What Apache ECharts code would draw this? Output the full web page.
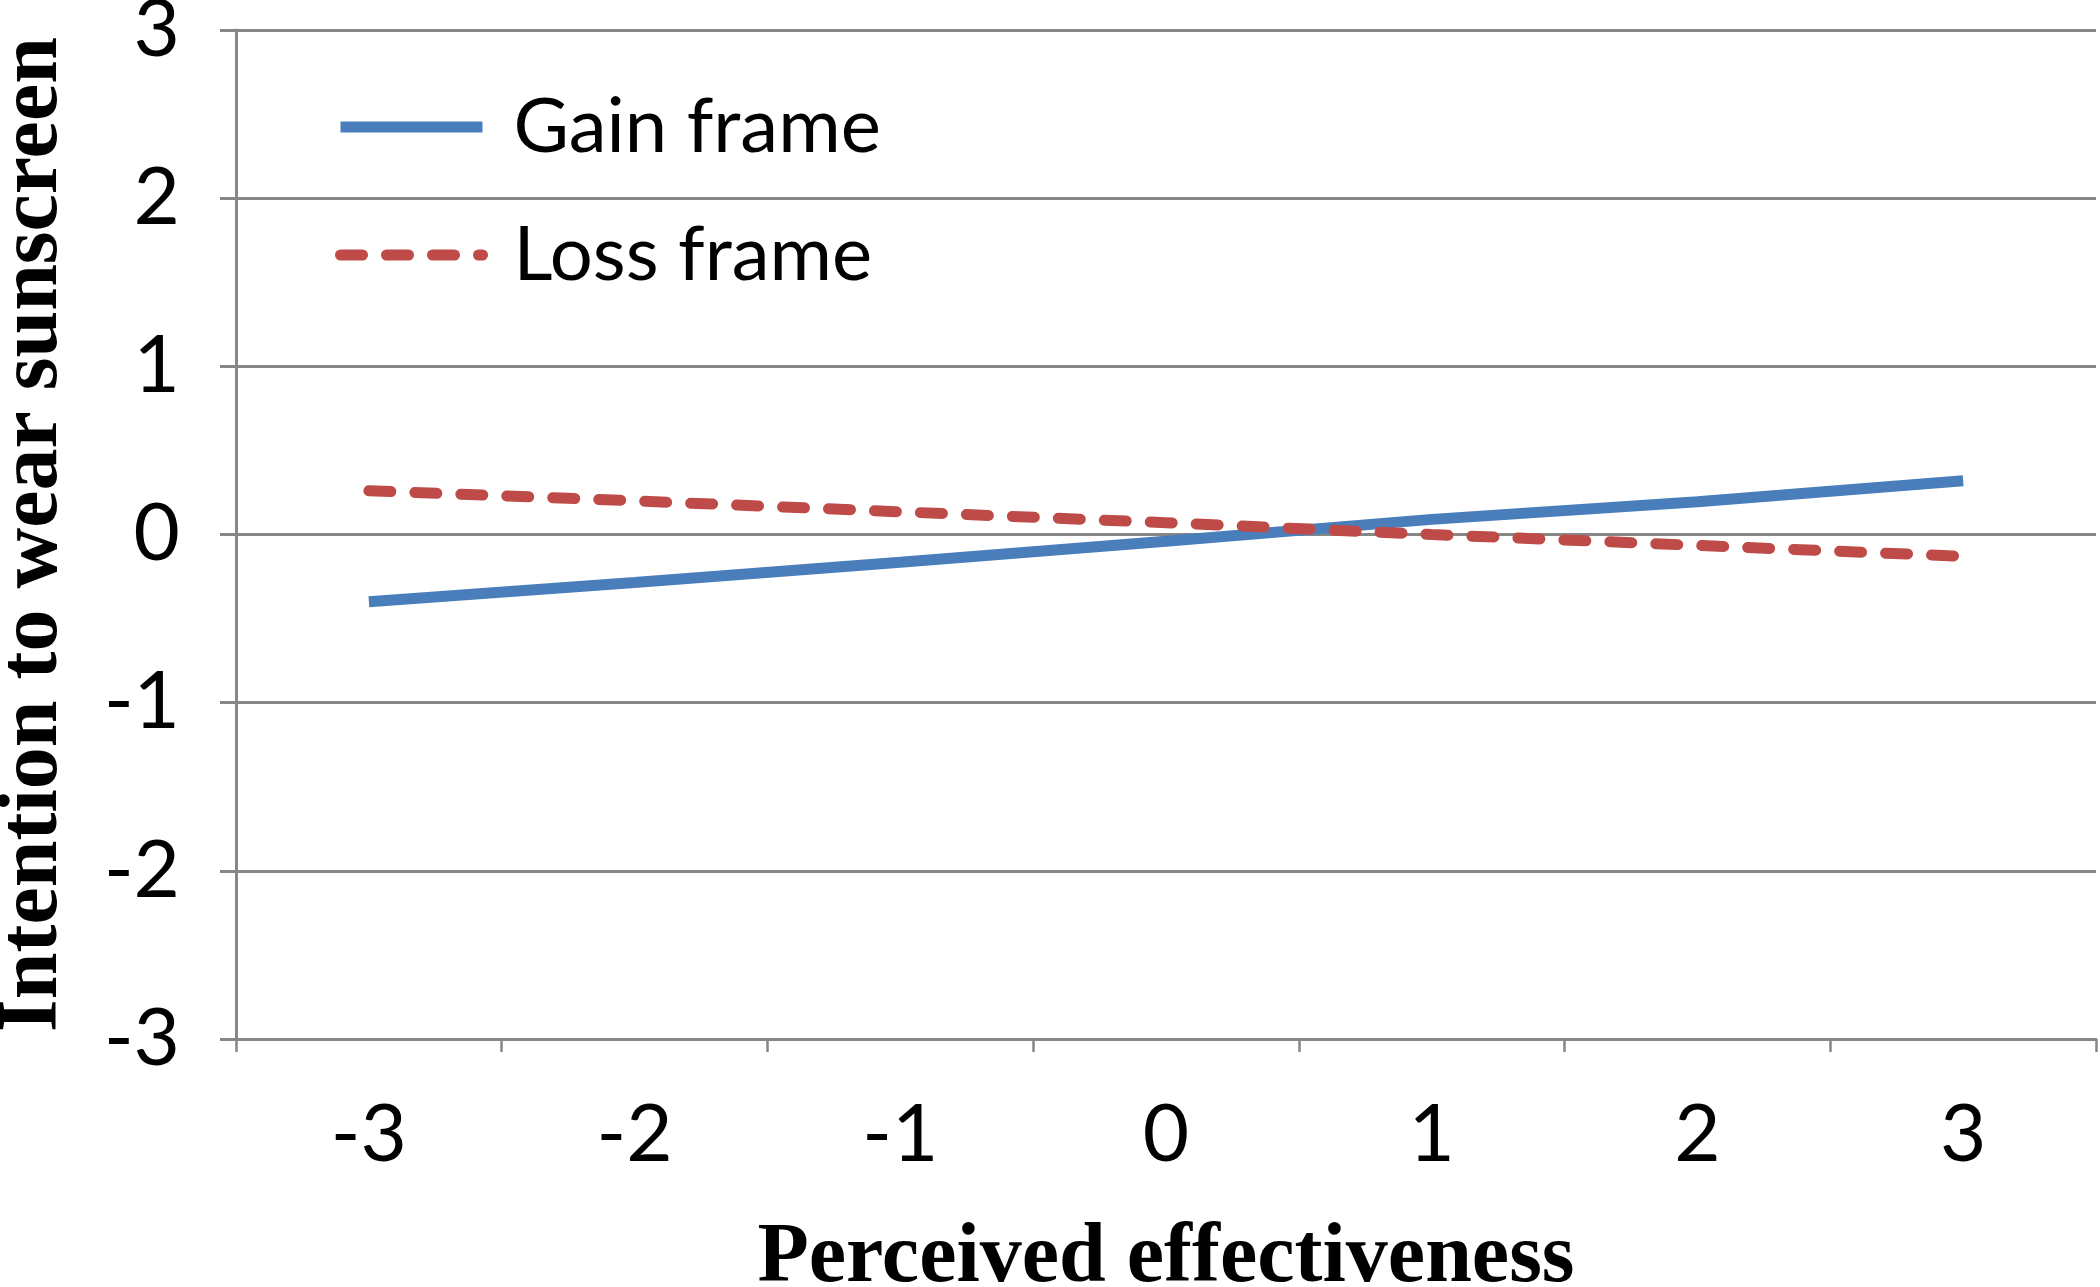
<!DOCTYPE html>
<html>
<head>
<meta charset="utf-8">
<script src="https://cdn.jsdelivr.net/npm/echarts@6/dist/echarts.min.js"></script>
<style>
html,body{margin:0;padding:0;background:#fff;}
#chart{width:2100px;height:1287px;}
</style>
</head>
<body>
<div id="chart"></div>
<script>
const categories = ['-3', '-2', '-1', '0', '1', '2', '3'];
const gainFrame = [-0.40, -0.285, -0.165, -0.04, 0.09, 0.195, 0.32];
const lossFrame = [0.26, 0.20, 0.135, 0.07, 0.0, -0.065, -0.13];
const yTicks = { min: -3, max: 3, interval: 1 };
const seriesNames = ['Gain frame', 'Loss frame'];
const xTitle = 'Perceived effectiveness';
const yTitle = 'Intention to wear sunscreen';

const gray = '#878787';
const chart = echarts.init(document.getElementById('chart'), null, { renderer: 'canvas' });
chart.setOption({
  animation: false,
  backgroundColor: '#ffffff',
  grid: { left: 236, right: 4, top: 30, bottom: 248, containLabel: false, outerBoundsMode: 'none' },
  legend: {
    orient: 'vertical',
    left: 330,
    top: 80,
    itemWidth: 142,
    itemHeight: 14,
    itemGap: 44,
    itemStyle: { opacity: 0 },
    lineStyle: { width: 11 },
    textStyle: { fontFamily: 'Lato', fontSize: 76, color: '#000', lineHeight: 84, padding: [0, 0, 0, 26] },
    data: seriesNames
  },
  xAxis: {
    type: 'category',
    data: categories,
    boundaryGap: true,
    name: xTitle,
    nameLocation: 'middle',
    nameGap: 178,
    nameTextStyle: { fontFamily: 'Liberation Serif', fontWeight: 'bold', fontSize: 84, color: '#000' },
    axisLine: { show: true, onZero: false, lineStyle: { color: gray, width: 3 } },
    axisTick: { show: true, length: 13, interval: 0, lineStyle: { color: gray, width: 2.5 } },
    axisLabel: { fontFamily: 'Lato', fontSize: 80, color: '#000', margin: 56, interval: 0 },
    splitLine: { show: false }
  },
  yAxis: {
    type: 'value',
    min: yTicks.min,
    max: yTicks.max,
    interval: yTicks.interval,
    name: yTitle,
    nameLocation: 'middle',
    nameRotate: 90,
    nameGap: 160,
    nameTextStyle: { fontFamily: 'Liberation Serif', fontWeight: 'bold', fontSize: 84, color: '#000' },
    axisLine: { show: true, lineStyle: { color: gray, width: 3 } },
    axisTick: { show: true, length: 16, lineStyle: { color: gray, width: 3 } },
    axisLabel: { fontFamily: 'Lato', fontSize: 80, color: '#000', margin: 56 },
    splitLine: { show: true, lineStyle: { color: gray, width: 3 } }
  },
  series: [
    {
      name: seriesNames[0],
      type: 'line',
      data: gainFrame,
      symbol: 'none',
      lineStyle: { color: '#4a7ebb', width: 11 },
      itemStyle: { color: '#4a7ebb' }
    },
    {
      name: seriesNames[1],
      type: 'line',
      data: lossFrame,
      symbol: 'none',
      lineStyle: { color: '#be4b48', width: 11, type: [22, 24], cap: 'round' },
      itemStyle: { color: '#be4b48' }
    }
  ]
});
</script>
</body>
</html>
